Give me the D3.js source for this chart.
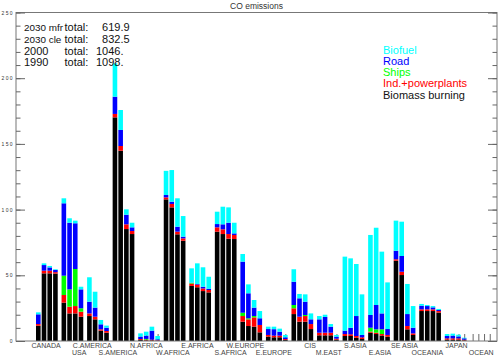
<!DOCTYPE html>
<html>
<head>
<meta charset="utf-8">
<script src="https://cdn.jsdelivr.net/npm/d3@7"></script>
<style>
  body { margin: 0; background: #fff; }
  svg { display: block; font-family: "Liberation Sans", Arial, sans-serif; }
  .pre { white-space: pre; }
</style>
</head>
<body>
<svg id="chart" width="499" height="359"></svg>
<script>
// regions, in plot order
const regions = ['CANADA', 'USA', 'C.AMERICA', 'S.AMERICA', 'N.AFRICA', 'W.AFRICA',
  'E.AFRICA', 'S.AFRICA', 'W.EUROPE', 'E.EUROPE', 'CIS', 'M.EAST', 'S.ASIA',
  'E.ASIA', 'SE ASIA', 'OCEANIA', 'JAPAN', 'OCEAN'];
// tick labels as in the original (padded with spaces)
const regionLabels = ['CANADA ', '       USA', 'C.AMERICA      ', 'S.AMERICA      ',
  'N.AFRICA   ', 'W.AFRICA  ', 'E.AFRICA   ', '     S.AFRICA', 'W.EUROPE      ',
  'E.EUROPE   ', '        CIS', ' M.EAST', '  S.ASIA', ' E.ASIA', 'SE ASIA',
  'OCEANIA   ', ' JAPAN', 'OCEAN'];
const scenarios = ['1990', '2000', '2030 cle', '2030 mfr'];
const sectors = ['Biomass burning', 'Ind.+powerplants', 'Ships', 'Road', 'Biofuel'];
const sectorColors = ['#000000', '#ff0000', '#00ff00', '#0000ff', '#00ffff'];

// values per region: [1990, 2000, 2030 cle, 2030 mfr]
const biomass = [
  [11.6, 51.5, 51.5, 51.3], [29.2, 21, 21, 18.5], [19, 16.5, 7.9, 6.3],
  [170.2, 144.8, 85.2, 81.4], [0.8, 0.5, 0.5, 0.3], [107.8, 101.7, 81.2, 76.3],
  [41.9, 40.9, 38, 37], [83.2, 81.4, 77.9, 77.6], [14.7, 11.4, 10.9, 6.6],
  [3.3, 2.8, 2.8, 0.8], [20.5, 14.7, 14.7, 9.1], [4.3, 4.3, 4.3, 1],
  [3.8, 3.8, 2.5, 1.5], [6.3, 5.3, 4.1, 3.3], [61.1, 50.2, 8.9, 4.6],
  [22.8, 22.8, 22.8, 21.6], [1, 1, 1, 0.5], [0, 0, 0, 0]];
const industry = [
  [1.3, 2, 2, 1.1], [5.8, 5.1, 5.6, 3.8], [2, 2, 1, 1.3],
  [2.6, 3.6, 3.6, 2.3], [0.7, 0.5, 0.5, 0.3], [1.5, 2.6, 2, 1.8],
  [1.8, 2, 2, 1.8], [3.3, 3.6, 3.5, 3.1], [4.3, 5.1, 7.1, 5.6],
  [1.3, 1.3, 1.3, 0.7], [4.4, 3.8, 4.3, 3.8], [2, 2, 2, 0.8],
  [1.5, 1.3, 1.3, 1.3], [0.8, 1, 1.2, 1.3], [1.1, 2.5, 2.5, 1.2],
  [1.3, 1.3, 1.3, 1.2], [1, 1, 1, 0.5], [0, 0, 0, 0]];
const ships = [
  [0, 0, 0, 0], [14.7, 13.2, 28.2, 2.6], [0, 0, 0, 0],
  [0, 0, 0, 0], [0, 0.6, 0, 0], [0, 0, 0, 0],
  [0.5, 0, 0, 0], [0, 0, 0, 0], [2.5, 0.8, 1, 0],
  [0, 0, 0, 0], [2.5, 0, 0.8, 0], [0, 0, 0, 0],
  [0, 0, 0, 0], [3, 2.6, 3.6, 0], [0, 0, 0, 0],
  [0, 0, 0, 0], [0, 0, 0, 0], [0, 0, 0, 0]];
const road = [
  [7.4, 4.3, 2.5, 1.7], [55.1, 50.7, 34.8, 14.4], [8.9, 6.9, 3.8, 2.5],
  [13.1, 12.2, 7.3, 2.8], [1.8, 2.5, 6.9, 0.7], [1.8, 1.7, 3.8, 1.3],
  [0.2, 0.5, 1.3, 1], [2.5, 3.8, 8.6, 1.2], [38.9, 19, 6.4, 5.1],
  [4.5, 4.9, 3, 1.3], [17.7, 14, 10.1, 3.6], [10.2, 12, 4.6, 1.5],
  [2.6, 5, 15.2, 1.8], [9.7, 18.5, 12.1, 4.5], [6.5, 12, 9.1, 4.3],
  [2.8, 2.5, 1.5, 0.8], [1.8, 2.1, 1.5, 1], [0, 0, 0, 0]];
const biofuel = [
  [1.5, 1.3, 1.1, 0.5], [3.8, 3.4, 2, 2], [18.6, 12.1, 3.3, 1.6],
  [25.4, 15.2, 4.1, 3.5], [2.5, 3, 3, 2.5], [18.4, 24.1, 21.6, 15.7],
  [10.9, 15.7, 14.8, 9.1], [9.4, 13.4, 11.7, 8.1], [5.8, 6.8, 5.8, 5.5],
  [1.8, 1.9, 2.3, 1.8], [9.5, 3.3, 5.6, 4.5], [2.5, 1.7, 2, 1.3],
  [56.3, 52.8, 39.6, 30.9], [60.9, 58.8, 47, 35.5], [22.9, 26.1, 22.9, 16.5],
  [1.3, 0.8, 1, 0.8], [1.5, 1.5, 1.3, 0.5], [0, 0, 0, 0]];

// totals printed in the corner (top to bottom)
const totalNames = ['2030 mfr', '2030 cle', '2000', '1990'];
const totalValues = ['\u2007619.9', '\u2007832.5', '1046.', '1098.'];

const yMajor = [0, 50, 100, 150, 200, 250];
const yMinor = d3.range(0, 251, 10);

const W = 499, H = 359;
const plotL = 16, plotR = 497, plotT = 12.5, plotB = 341;
const svg = d3.select('#chart');
svg.append('rect').attr('width', W).attr('height', H).attr('fill', '#fff');

// build one row per bar
const series = [biomass, industry, ships, road, biofuel];
let rows = [];
regions.forEach((r, i) => {
  scenarios.forEach((s, j) => {
    let row = { region: r, scenario: s };
    sectors.forEach((k, n) => { row[k] = series[n][i][j]; });
    rows.push(row);
  });
});
const stacked = d3.stack().keys(sectors)(rows);

const x0 = d3.scaleBand().domain(regions).range([36, 492.05]).paddingInner(0.15);
const x1 = d3.scaleBand().domain(scenarios).range([0, x0.bandwidth()]).paddingInner(0.193);
const y = d3.scaleLinear().domain([0, 250]).range([plotB, plotT]);

// title
svg.append('text').attr('x', (plotL + plotR) / 2).attr('y', 8.5)
  .attr('text-anchor', 'middle').attr('font-size', 8.5).attr('fill', '#333')
  .text('CO emissions');

// bottom ticks at each bar (mostly hidden behind bars)
svg.append('g').selectAll('line').data(rows).join('line')
  .attr('x1', d => x0(d.region) + x1(d.scenario) + x1.bandwidth() / 2 + 0.5)
  .attr('x2', d => x0(d.region) + x1(d.scenario) + x1.bandwidth() / 2 + 0.5)
  .attr('y1', plotB).attr('y2', plotB - 7)
  .attr('stroke', '#444').attr('stroke-width', 0.8);

// bars
svg.append('g').selectAll('g').data(stacked).join('g')
  .attr('fill', (d, i) => sectorColors[i])
  .selectAll('rect').data(d => d).join('rect')
  .attr('x', d => x0(d.data.region) + x1(d.data.scenario))
  .attr('width', x1.bandwidth())
  .attr('y', d => y(d[1]))
  .attr('height', d => Math.max(0, y(d[0]) - y(d[1])));

// frame
svg.append('rect').attr('x', plotL).attr('y', plotT)
  .attr('width', plotR - plotL).attr('height', plotB - plotT)
  .attr('fill', 'none').attr('stroke', '#777').attr('stroke-width', 1);

// y axes: minor and major ticks pointing inward
const axes = [
  [d3.axisLeft, plotL, true],
  [d3.axisRight, plotR, false]
];
axes.forEach(([ax, xpos, labels]) => {
  let gMin = svg.append('g').attr('transform', `translate(${xpos},0)`)
    .call(ax(y).tickValues(yMinor).tickSize(-4.5).tickSizeOuter(0).tickFormat(''));
  gMin.select('.domain').remove();
  let gMaj = svg.append('g').attr('transform', `translate(${xpos},0)`)
    .call(ax(y).tickValues(yMajor).tickSize(-9).tickSizeOuter(0).tickPadding(2)
      .tickFormat(labels ? d3.format('d') : ''));
  gMaj.select('.domain').remove();
  svg.selectAll('.tick line').attr('stroke', '#666');
  gMaj.selectAll('text').attr('font-size', 5).attr('letter-spacing', 1.4)
    .attr('fill', '#333').attr('font-family', null);
});

// region labels, alternating rows
svg.append('g').selectAll('text').data(regions).join('text')
  .attr('class', 'pre')
  .attr('x', d => x0(d) + x0.bandwidth() / 2)
  .attr('y', (d, i) => i % 2 ? 355 : 347.5)
  .attr('text-anchor', 'middle').attr('font-size', 7).attr('fill', '#444')
  .text((d, i) => regionLabels[i]);

// totals in the corner, one text per line
const tot = svg.append('g').attr('font-size', 11).attr('fill', '#111');
totalNames.forEach((n, i) => {
  let line = tot.append('text').attr('x', 24).attr('y', 31 + i * 11.8);
  let t = line.append('tspan').text(n);
  // longer scenario names are set a bit smaller so they clear "total:"
  if (n.length > 4) t.attr('font-size', 9.9);
  line.append('tspan').attr('x', 64.5).text('total:');
  line.append('tspan').attr('x', 96).text(totalValues[i]);
});

// legend, top entry is the top of the stack
const legendItems = sectors.slice().reverse();
const legendColors = sectorColors.slice().reverse();
svg.append('g').selectAll('text').data(legendItems).join('text')
  .attr('x', 383).attr('y', (d, i) => 53.5 + i * 11.3)
  .attr('font-size', 11)
  .attr('fill', (d, i) => legendColors[i] == '#000000' ? '#111' : legendColors[i])
  .text(d => d);
</script>
</body>
</html>
